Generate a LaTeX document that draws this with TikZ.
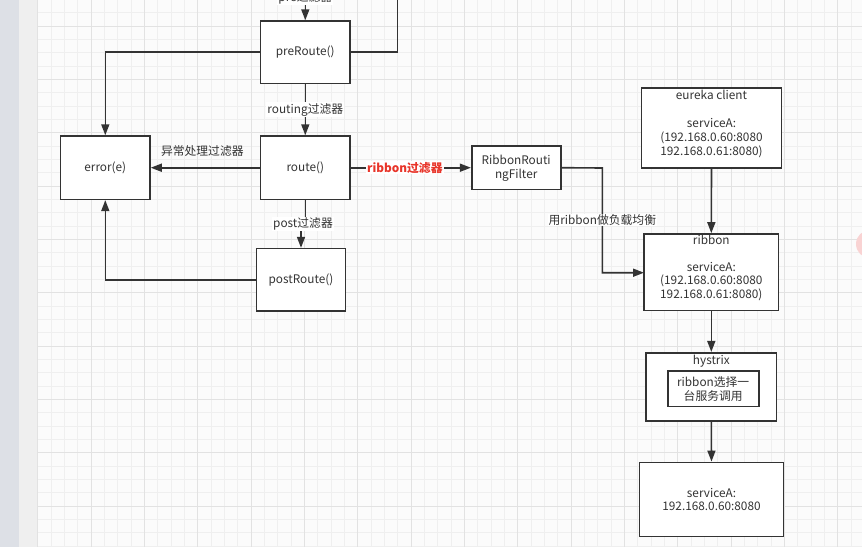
\documentclass[tikz,border=0pt]{standalone}
\usepackage{fontspec}
\setmainfont{Noto Sans CJK SC}
\usetikzlibrary{arrows.meta}
\definecolor{ln}{HTML}{333333}
\definecolor{txt}{HTML}{333333}
\definecolor{redlab}{HTML}{E8352A}
\definecolor{minorg}{HTML}{EFEFEF}
\definecolor{majorg}{HTML}{E2E2E2}
\definecolor{bgg}{HTML}{FBFBFB}
\definecolor{strip1}{HTML}{DDE0E6}
\definecolor{strip2}{HTML}{EFEFEF}
\definecolor{pinkc}{HTML}{F9D3D3}
\tikzset{
  box/.style={draw=ln, line width=1.6pt, fill=white, inner sep=0pt, font=\fontsize{11.8}{14}\selectfont, text=txt, align=center},
  tx/.style={inner sep=0pt, font=\fontsize{11.8}{14}\selectfont, text=txt, align=center},
  elab/.style={fill=white, inner sep=1pt, font=\fontsize{11.8}{14}\selectfont, text=txt},
  conn/.style={draw=ln, line width=1.6pt},
  arr/.style={conn, -{Triangle[length=11pt,width=8pt]}},
}
\begin{document}
\begin{tikzpicture}[x=1pt,y=-1pt]
\clip (0,0) rectangle (862,547);
\useasboundingbox (0,0) rectangle (862,547);
% background
\fill[bgg] (0,0) rectangle (862,547);
\fill[strip1] (0,0) rectangle (19,547);
\fill[strip2] (19,0) rectangle (38,547);
% grid
\foreach \i in {0,...,62} {
  \draw[minorg, line width=0.8pt] ({37.7+13.333*\i},0) -- ({37.7+13.333*\i},547);
}
\foreach \j in {-1,...,40} {
  \draw[minorg, line width=0.8pt] (38,{26+13.333*\j}) -- (862,{26+13.333*\j});
}
\foreach \i in {0,...,15} {
  \draw[majorg, line width=1pt] ({37.7+53.333*\i},0) -- ({37.7+53.333*\i},547);
}
\foreach \j in {0,...,10} {
  \draw[majorg, line width=1pt] (38,{26+53.333*\j}) -- (862,{26+53.333*\j});
}
% pink UI circle at right edge
\fill[pinkc] (870,244) circle (14);

% nodes
\node[box, minimum width=89.3pt, minimum height=62.3pt] (pre) at (305.3,52.2) {preRoute()};
\node[box, minimum width=89.3pt, minimum height=63.3pt] (route) at (305.3,167.7) {route()};
\node[box, minimum width=89.3pt, minimum height=63.3pt] (err) at (105.3,167.7) {error(e)};
\node[box, minimum width=89.3pt, minimum height=62.3pt] (post) at (301,279.8) {postRoute()};
\node[box, minimum width=89pt, minimum height=43.3pt] (rrf) at (516.2,167.7) {};
\node[tx, font=\fontsize{11.8}{14.5}\selectfont] (rrft) at (516.2,168.3) {RibbonRouti\\ngFilter};
\node[box, minimum width=140.3pt, minimum height=80pt] (eur) at (711.5,128) {};
\node[tx] (eurt) at (711.5,123.5) {eureka client\\\strut\\serviceA:\\(192.168.0.60:8080\\192.168.0.61:8080)};
\node[box, minimum width=134.7pt, minimum height=76.7pt] (rib) at (711.3,272.3) {};
\node[tx, font=\fontsize{11.8}{13.3}\selectfont] (ribt) at (711.3,268) {ribbon\\\strut\\serviceA:\\(192.168.0.60:8080\\192.168.0.61:8080)};
\node[box, minimum width=130.7pt, minimum height=68pt] (hys) at (711.3,386.7) {};
\node[tx] (hyst) at (711.3,360.7) {hystrix};
\node[box, minimum width=91pt, minimum height=35.7pt, font=\fontsize{11.8}{14.4}\selectfont] (inner) at (713.2,388.8) {ribbon选择一\\台服务调用};
\node[box, minimum width=144.3pt, minimum height=74.3pt, font=\fontsize{11.8}{13.4}\selectfont] (svc) at (711.5,499.5) {serviceA:\\192.168.0.60:8080};

% connectors
\coordinate (pretop) at (305.3,-12);
\coordinate (outtop) at (397.3,-12);
\draw[arr] (pretop) -- (pre.north);
\node[elab] (prelab) at (305.3,-2) {pre过滤器};
\draw[conn] (pre.east) -| (outtop);
\draw[arr] (pre.west) -| (err.north);
\draw[arr] (pre.south) -- (route.north) node[elab, pos=0.5] (routinglab) {routing过滤器};
\draw[arr] (route.west) -- (err.east);
\node[tx] (exlab) at (202.3,151) {异常处理过滤器};
\coordinate (postjog) at (305.3,224);
\coordinate (postjog2) at (301,224);
\draw[conn] (route.south) -- (postjog);
\draw[arr] (postjog2) -- (post.north);
\node[elab] (postlab) at (303,224) {post过滤器};
\draw[arr] (post.west) -| (err.south);
\draw[arr] (route.east) -- (rrf.west) node[elab, pos=0.45, text=redlab, font=\fontsize{11.8}{14}\selectfont\bfseries] (riblab) {ribbon过滤器};
\coordinate (lbx) at (602.3,168);
\coordinate (ribin) at (644,272.7);
\draw[arr] (rrf.east) -- (lbx) |- (ribin);
\node[elab] (lblab) at (602.3,220) {用ribbon做负载均衡};
\draw[arr] (eur.south) -- (rib.north);
\draw[arr] (rib.south) -- (hys.north);
\draw[arr] (hys.south) -- (svc.north);
\end{tikzpicture}
\end{document}
